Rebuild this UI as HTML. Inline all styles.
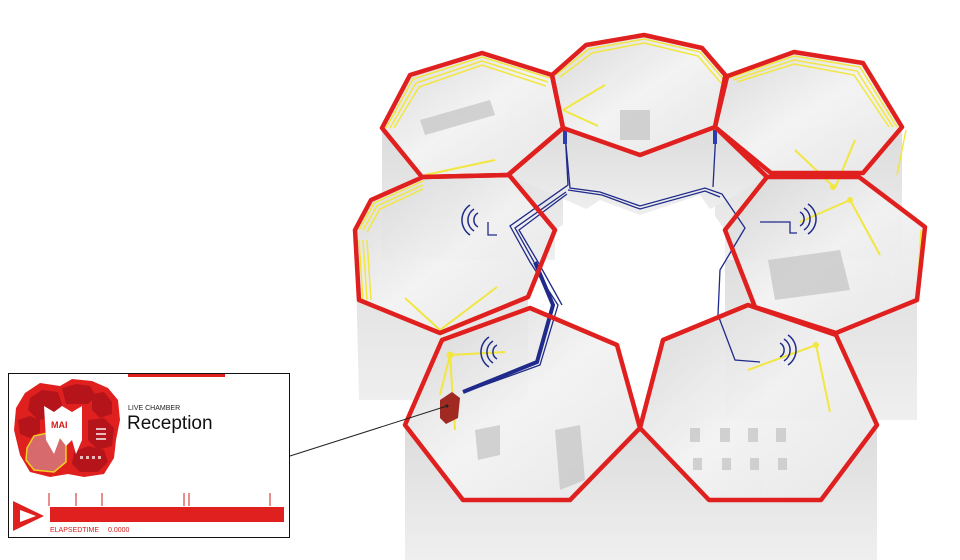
<!DOCTYPE html>
<html><head><meta charset="utf-8"><style>
html,body{margin:0;padding:0;background:#fff;}
svg{display:block;font-family:"Liberation Sans",sans-serif;}
</style></head><body>
<svg width="960" height="560" viewBox="0 0 960 560" xmlns="http://www.w3.org/2000/svg">
<defs>
<linearGradient id="wall" x1="0" y1="0" x2="0" y2="1"><stop offset="0" stop-color="#dcdcdc"/><stop offset="1" stop-color="#efefef"/></linearGradient>
<linearGradient id="floor" x1="0" y1="0" x2="1" y2="1"><stop offset="0" stop-color="#d6d6d6"/><stop offset="0.5" stop-color="#f2f2f2"/><stop offset="1" stop-color="#e4e4e4"/></linearGradient>
</defs>
<g fill="url(#wall)" stroke="none">
<polygon points="382,128 422,177 508,175 563,128 563,260 382,260"/>
<polygon points="355,230 359,300 440,333 528,297 528,400 359,400"/>
<polygon points="405,425 460,500 570,500 640,428 640,560 405,560"/>
<polygon points="640,428 709,500 821,500 877,425 877,560 640,560"/>
<polygon points="725,230 755,307 836,333 917,300 917,420 725,420"/>
<polygon points="715,127 771,173 863,173 902,127 902,260 715,260"/>
<polygon points="509,175 563,128 640,155 715,127 767,177 700,215 600,215"/>
</g>
<path d="M555,230 L600,200 L640,215 L700,195 L725,230 L725,300 L680,350 L640,420 L617,340 L530,308 L555,260 Z" fill="#fff"/>
<g fill="url(#floor)" opacity="0.9">
<polygon points="382,128 410,75 482,53 552,75 563,128 508,175 422,177"/>
<polygon points="552,75 586,45 644,35 702,48 727,77 715,127 640,155 563,128"/>
<polygon points="725,77 794,52 863,63 902,127 863,173 771,173 715,127"/>
<polygon points="355,230 371,200 423,177 509,175 555,230 528,297 440,333 359,300"/>
<polygon points="725,230 767,177 859,177 925,227 917,300 836,333 755,307"/>
<polygon points="405,425 442,340 530,308 617,345 640,428 570,500 463,500"/>
<polygon points="640,428 663,340 748,305 836,335 877,425 821,500 709,500"/>
</g>
<g fill="#c8c8c8" opacity="0.8">
<rect x="690" y="428" width="10" height="14"/><rect x="720" y="428" width="10" height="14"/><rect x="748" y="428" width="10" height="14"/><rect x="776" y="428" width="10" height="14"/>
<rect x="693" y="458" width="9" height="12"/><rect x="722" y="458" width="9" height="12"/><rect x="750" y="458" width="9" height="12"/><rect x="778" y="458" width="9" height="12"/>
<polygon points="768,260 840,250 850,290 775,300"/>
<rect x="620" y="110" width="30" height="30"/>
<polygon points="420,120 490,100 495,115 425,135"/>
<polygon points="555,430 580,425 585,480 560,490"/>
<polygon points="475,430 500,425 500,455 478,460"/>
</g>
<g fill="none" stroke="#f2e640" stroke-width="1.5">
<polyline points="386,128 413,79 482,57 550,78"/><polyline points="390,128 416,83 482,61 548,82"/><polyline points="394,128 419,87 482,65 546,86"/>
<polyline points="556,75 589,49 644,39 700,52 724,80"/><polyline points="560,77 592,53 644,43 698,56 721,83"/>
<polyline points="729,78 794,56 860,67 897,127"/><polyline points="733,80 794,60 857,71 893,127"/><polyline points="737,82 794,64 854,75 889,127"/>
<polyline points="359,230 374,203 423,181"/><polyline points="363,230 377,206 423,185"/><polyline points="367,232 380,209 423,189"/>
<line x1="359" y1="240" x2="363" y2="300"/><line x1="363" y1="240" x2="367" y2="300"/><line x1="367" y1="240" x2="371" y2="300"/>
<polyline points="906,130 897,175"/><polyline points="921,230 917,300"/>
</g>
<g stroke="#f2e640" stroke-width="2" fill="none">
<line x1="563" y1="110" x2="605" y2="85"/><line x1="563" y1="110" x2="598" y2="126"/>
<line x1="425" y1="175" x2="495" y2="160"/>
<line x1="440" y1="330" x2="405" y2="298"/><line x1="440" y1="330" x2="497" y2="287"/>
<line x1="450" y1="355" x2="505" y2="352"/><line x1="450" y1="355" x2="455" y2="430"/><line x1="450" y1="355" x2="440" y2="395"/>
<line x1="835" y1="188" x2="795" y2="150"/><line x1="835" y1="188" x2="855" y2="140"/><line x1="850" y1="200" x2="800" y2="222"/><line x1="850" y1="200" x2="880" y2="255"/>
<line x1="816" y1="345" x2="748" y2="370"/><line x1="816" y1="345" x2="830" y2="412"/>
</g>
<g fill="#f2e640"><circle cx="450" cy="355" r="3.5"/><circle cx="850" cy="200" r="3"/><circle cx="833" cy="187" r="3"/><circle cx="816" cy="345" r="3"/></g>
<g fill="none" stroke="#1f2a8a" stroke-width="1.3">
<polyline points="565,130 568,185 510,226 530,262 558,305 540,365 465,392"/>
<polyline points="565,134 570,188 600,192 640,206 705,188 722,194 745,228 720,270 718,315 735,360 760,362"/>
<polyline points="568,190 602,195 640,209 705,191 720,197"/>
<polyline points="566,192 515,228 534,262"/>
<polyline points="567,194 519,230 538,262 562,305"/>
<polyline points="716,130 713,187"/>
<polyline points="497,235 488,235 488,222"/>
<polyline points="797,233 790,233 790,222 760,222"/>
</g>
<g stroke="#1f2a8a" stroke-width="4" fill="none"><polyline points="535,262 553,305 537,362 463,392"/></g>
<rect x="563" y="130" width="4" height="14" fill="#2b3cb0"/><rect x="713" y="130" width="4" height="14" fill="#2b3cb0"/>
<g fill="none" stroke="#1f2a8a" stroke-width="1.5">
<path d="M478,213 a8,8 0 0 0 0,14"/><path d="M474,209 a13,13 0 0 0 0,22"/><path d="M470,205 a18,18 0 0 0 0,30"/>
<path d="M497,345 a8,8 0 0 0 0,14"/><path d="M493,341 a13,13 0 0 0 0,22"/><path d="M489,337 a18,18 0 0 0 0,30"/>
<path d="M800,212 a8,8 0 0 1 0,14"/><path d="M804,208 a13,13 0 0 1 0,22"/><path d="M808,204 a18,18 0 0 1 0,30"/>
<path d="M780,343 a8,8 0 0 1 0,14"/><path d="M784,339 a13,13 0 0 1 0,22"/><path d="M788,335 a18,18 0 0 1 0,30"/>
</g>
<g fill="none" stroke="#e0201e" stroke-width="4.5" stroke-linejoin="round">
<polygon points="382,128 410,75 482,53 552,75 563,128 508,175 422,177"/>
<polygon points="552,75 586,45 644,35 702,48 727,77 715,127 640,155 563,128"/>
<polygon points="725,77 794,52 863,63 902,127 863,173 771,173 715,127"/>
<polyline points="508,175 563,128"/><polyline points="715,127 767,177"/>
<polygon points="355,230 371,200 423,177 509,175 555,230 528,297 440,333 359,300"/>
<polygon points="725,230 767,177 859,177 925,227 917,300 836,333 755,307"/>
<polygon points="405,425 442,340 530,308 617,345 640,428 570,500 463,500"/>
<polygon points="640,428 663,340 748,305 836,335 877,425 821,500 709,500"/>
</g>
<polygon points="440,400 452,392 460,398 458,418 446,424 440,418" fill="#a02a22"/>
<line x1="290" y1="456" x2="447" y2="406" stroke="#222" stroke-width="1"/>
<circle cx="447" cy="406" r="1.5" fill="#222"/>
<!-- inset -->
<rect x="8.5" y="373.5" width="281" height="164" fill="#fff" stroke="#111" stroke-width="1"/>
<rect x="128" y="374" width="97" height="3" fill="#e0201e"/>
<!-- logo -->
<polygon points="25,393 40,383 60,386 72,379 92,381 108,388 118,400 120,420 116,440 114,458 104,474 84,477 68,474 50,477 30,472 20,455 14,430 16,408" fill="#e0201e"/>
<g fill="#b5141a">
<polygon points="30,398 42,390 58,392 62,404 56,418 38,420 28,410"/>
<polygon points="62,388 76,384 90,386 96,396 88,404 66,404"/>
<polygon points="92,394 104,392 112,402 112,414 100,418 92,410"/>
<polygon points="88,420 104,418 114,428 112,446 98,450 88,440"/>
<polygon points="74,452 88,446 104,450 108,462 98,472 80,472 72,464"/>
<polygon points="18,420 30,416 40,420 40,432 30,438 20,434"/>
</g>
<polygon points="27,448 34,436 52,432 66,442 66,462 54,472 34,470 26,460" fill="#d66a6c" stroke="#f0d020" stroke-width="1.5"/>
<polygon points="44,406 54,412 62,406 72,412 82,406 82,440 76,454 72,440 66,446 60,438 54,454 46,440" fill="#fff"/>
<text x="51" y="428" font-size="9" font-weight="bold" fill="#d21c1c">MAI</text>
<g fill="#fff" opacity="0.7"><rect x="80" y="456" width="3" height="3"/><rect x="86" y="456" width="3" height="3"/><rect x="92" y="456" width="3" height="3"/><rect x="98" y="456" width="3" height="3"/><rect x="96" y="428" width="10" height="2"/><rect x="96" y="433" width="10" height="2"/><rect x="96" y="438" width="10" height="2"/></g>
<text x="128" y="410" font-size="7" fill="#222">LIVE CHAMBER</text>
<text x="127" y="429" font-size="19" fill="#111">Reception</text>
<polygon points="13,501 44,516 13,531" fill="#e0201e"/>
<polygon points="20,510 36,516 20,522" fill="#fff"/>
<rect x="50" y="507" width="234" height="15" fill="#e0201e"/>
<g stroke="#d21c1c" stroke-width="1"><line x1="49" y1="493" x2="49" y2="506"/><line x1="76" y1="493" x2="76" y2="506"/><line x1="102" y1="493" x2="102" y2="506"/><line x1="184" y1="493" x2="184" y2="506"/><line x1="189" y1="493" x2="189" y2="506"/><line x1="270" y1="493" x2="270" y2="506"/></g>
<text x="50" y="532" font-size="7" fill="#d21c1c">ELAPSEDTIME</text>
<text x="108" y="532" font-size="7" fill="#d21c1c">0.0000</text>
</svg>
</body></html>
